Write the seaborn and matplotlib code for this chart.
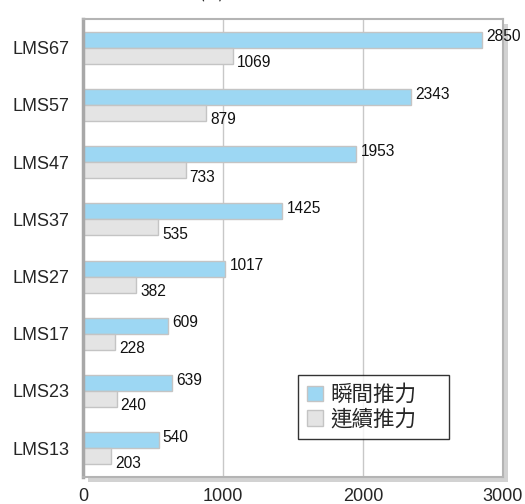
import matplotlib
matplotlib.use("Agg")
import matplotlib.pyplot as plt
import pandas as pd
import seaborn as sns
from matplotlib.patches import Rectangle

# data
models = ["LMS67", "LMS57", "LMS47", "LMS37", "LMS27", "LMS17", "LMS23", "LMS13"]
peak_force = [2850, 2343, 1953, 1425, 1017, 609, 639, 540]
cont_force = [1069, 879, 733, 535, 382, 228, 240, 203]
series_names = ["瞬間推力", "連續推力"]
x_ticks = [0, 1000, 2000, 3000]

df = pd.DataFrame({
    "model": models * 2,
    "force": peak_force + cont_force,
    "series": [series_names[0]] * len(models) + [series_names[1]] * len(models),
})

sns.set_style("white")
plt.rcParams["font.family"] = ["Liberation Sans", "Noto Sans CJK TC", "DejaVu Sans"]

fig = plt.figure(figsize=(5.25, 5.04), dpi=100)
ax = fig.add_axes([0.158, 0.054, 0.800, 0.908])

sns.barplot(data=df, y="model", x="force", hue="series", orient="h",
            palette=["#9dd7f3", "#e4e4e4"], saturation=1, width=0.56, gap=0,
            edgecolor="#c4c4c4", linewidth=1, ax=ax, legend=True)

# value labels: peak slightly above, continuous slightly below
for cont, dy in zip(ax.containers, [2, -5]):
    for bar in cont:
        w = bar.get_width()
        y = bar.get_y() + bar.get_height() / 2
        ax.annotate(f"{int(round(w))}", xy=(w, y), xytext=(3, dy),
                    textcoords="offset points", va="center", ha="left",
                    fontsize=11.2, color="#111111")

ax.set_xlim(0, 3000)
ax.set_xticks(x_ticks)
ax.set_xticklabels([str(t) for t in x_ticks])
ax.set_xlabel("")
ax.set_ylabel("")
ax.tick_params(axis="both", length=0, labelsize=13)
ax.tick_params(axis="x", pad=8)
ax.tick_params(axis="y", pad=10)
ax.xaxis.grid(True, color="#c8c8c8", linewidth=1)
ax.set_axisbelow(True)
for side, sp in ax.spines.items():
    sp.set_visible(True)
    sp.set_color("#b4b4b4")
    sp.set_linewidth(1.5)
ax.spines["left"].set_linewidth(2.5)
ax.spines["left"].set_color("#a8a8a8")

# drop shadow behind the plot frame
shadow = Rectangle((0.158 + 5 / 525, 0.054 - 5 / 504), 0.800, 0.908,
                   transform=fig.transFigure, facecolor="#d2d2d2",
                   edgecolor="none", zorder=-1)
fig.patches.append(shadow)

leg = ax.legend(loc="lower left", bbox_to_anchor=(0.512, 0.083, 0.36, 0.131),
                mode="expand", frameon=True, fancybox=False, edgecolor="black",
                prop={"family": ["Noto Sans CJK TC"], "size": 15.5},
                handlelength=0.75, handleheight=0.75, handletextpad=0.35,
                labelspacing=0.1, borderpad=0.4, borderaxespad=0)
leg.get_frame().set_linewidth(1)

# title is cropped at the top edge in the reference
fig.text(0.33, 1 - 2 / 504, "推力比較 (N)", ha="center", va="bottom",
         fontsize=13, family=["Noto Sans CJK TC"])

fig.savefig("out.png", dpi=100)
